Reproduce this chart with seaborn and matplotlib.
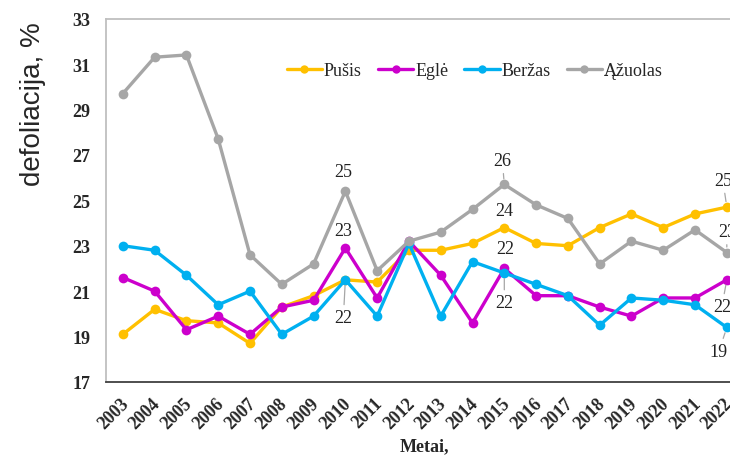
import matplotlib
matplotlib.use("Agg")
import matplotlib.pyplot as plt
from matplotlib.transforms import ScaledTranslation
import seaborn as sns
import pandas as pd

years = list(range(2003, 2023))
pusis = [19.1, 20.2, 19.7, 19.6, 18.7, 20.3, 20.8, 21.5, 21.4, 22.8, 22.8, 23.1, 23.8, 23.1, 23.0, 23.8, 24.4, 23.8, 24.4, 24.7]
egle = [21.6, 21.0, 19.3, 19.9, 19.1, 20.3, 20.6, 22.9, 20.7, 23.2, 21.7, 19.6, 22.0, 20.8, 20.8, 20.3, 19.9, 20.7, 20.7, 21.5]
berzas = [23.0, 22.8, 21.7, 20.4, 21.0, 19.1, 19.9, 21.5, 19.9, 23.1, 19.9, 22.3, 21.8, 21.3, 20.8, 19.5, 20.7, 20.6, 20.4, 19.4]
azuolas = [29.7, 31.3, 31.4, 27.7, 22.6, 21.3, 22.2, 25.4, 21.9, 23.2, 23.6, 24.6, 25.7, 24.8, 24.2, 22.2, 23.2, 22.8, 23.7, 22.7]
species = ["Pušis", "Eglė", "Beržas", "Ąžuolas"]
colors = ["#FFC000", "#CC00CC", "#00B0F0", "#A6A6A6"]
yticks = [17, 19, 21, 23, 25, 27, 29, 31, 33]

series = dict(zip(species, [pusis, egle, berzas, azuolas]))
rows = []
for sp, vals in series.items():
    for y, v in zip(years, vals):
        rows.append({"Metai": y, "val": v, "species": sp})
df = pd.DataFrame(rows)

sns.set_style("white")
plt.rcParams["font.family"] = ["Liberation Serif", "DejaVu Serif"]

fig = plt.figure(figsize=(7.3, 4.56), dpi=100)
ax = fig.add_axes([106 / 730, 73 / 456, 624 / 730, 363.4 / 456])

sns.lineplot(data=df, x="Metai", y="val", hue="species", hue_order=species,
             palette=dict(zip(species, colors)), marker="o", markersize=7,
             markeredgewidth=0, linewidth=2.4, ax=ax, legend=True)

ax.set_xlim(2002.47, 2022.1)
ax.set_ylim(17, 33)
ax.set_yticks(yticks)
ax.set_xticks(years)
ax.set_xticklabels([str(y) for y in years], rotation=45, ha="right",
                   rotation_mode="anchor", fontweight="bold", fontsize=13)
ax.set_yticklabels([str(t) for t in yticks], fontweight="bold", fontsize=13)
ax.tick_params(axis="both", length=0)
ax.tick_params(axis="y", pad=11)
ax.tick_params(axis="x", pad=9)
shift = ScaledTranslation(-3 / 100, 0, fig.dpi_scale_trans)
for lab in ax.get_xticklabels():
    lab.set_transform(lab.get_transform() + shift)

for s in ["top", "left"]:
    ax.spines[s].set_color("#BFBFBF")
    ax.spines[s].set_linewidth(1.3)
ax.spines["bottom"].set_color("#404040")
ax.spines["bottom"].set_linewidth(1.3)
ax.spines["right"].set_visible(False)

ax.set_xlabel("Metai,", fontweight="bold", fontsize=13)
ax.xaxis.set_label_coords(0.511, -0.151)
ax.set_ylabel("defoliacija, %", family=["Liberation Sans", "DejaVu Sans"],
              fontsize=20, va="center")
ax.yaxis.set_label_coords((33 - 106) / 624, (383 - 104) / 363.4)

# data labels (offsets in pixels)
offsets = {
    (2010, "Ąžuolas"): (-2, 20, False),
    (2010, "Eglė"): (-2, 17, False),
    (2010, "Beržas"): (-2, -38, True),
    (2015, "Ąžuolas"): (-2, 24, True),
    (2015, "Pušis"): (0, 17, False),
    (2015, "Eglė"): (1, 20, False),
    (2015, "Beržas"): (0, -30, True),
    (2022, "Pušis"): (-4, 27, True),
    (2022, "Ąžuolas"): (0, 21, True),
    (2022, "Eglė"): (-5, -27, True),
    (2022, "Beržas"): (-8, -24, True),
}
for (yr, sp), (dx, dy, lead) in offsets.items():
    v = series[sp][years.index(yr)]
    ap = dict(arrowstyle="-", color="#A6A6A6", lw=0.9, shrinkA=1, shrinkB=4) if lead else None
    ax.annotate(f"{round(v):d}", xy=(yr, v), xytext=(dx, dy),
                textcoords="offset pixels", ha="center", va="center",
                fontsize=13, color="#222222", arrowprops=ap,
                annotation_clip=False)

leg = ax.legend(loc="center", bbox_to_anchor=(0.591, 0.856), ncol=4,
                frameon=False, fontsize=13, handlelength=1.95,
                handletextpad=0.1, columnspacing=0.9, borderaxespad=0)
for h in leg.legend_handles:
    h.set_linewidth(2.4)
    h.set_markersize(6)

fig.savefig("out.png", dpi=100)
